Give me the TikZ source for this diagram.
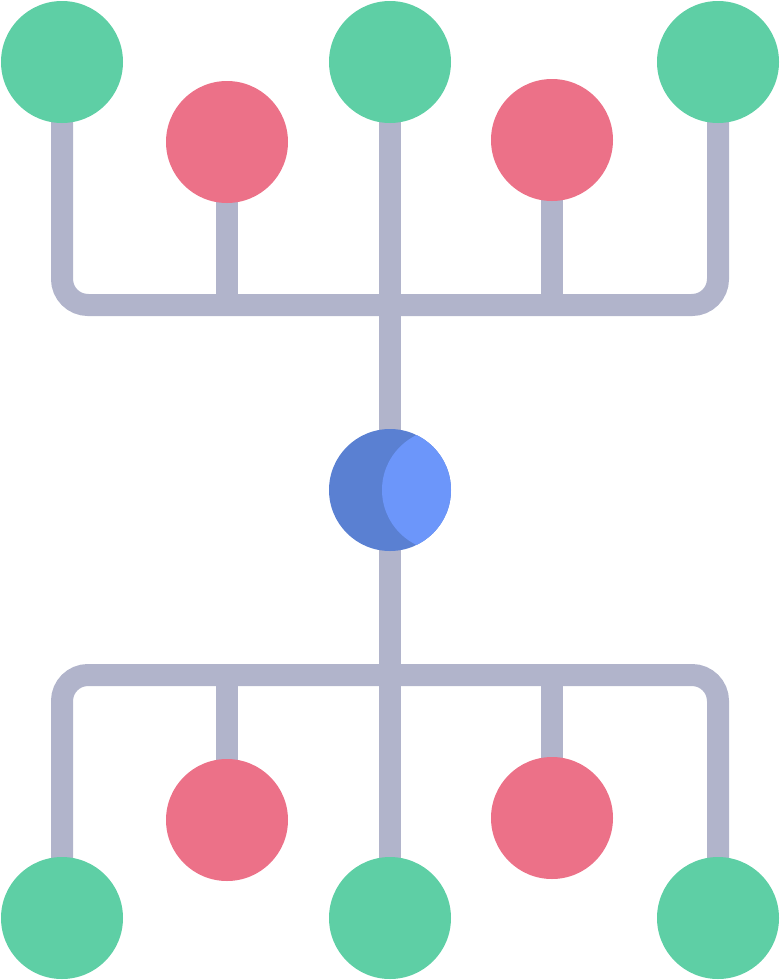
\documentclass[tikz,border=0pt]{standalone}
\usepackage{tikz}
\usetikzlibrary{backgrounds}
\definecolor{gruen}{HTML}{5ECFA5}
\definecolor{rot}{HTML}{EC7188}
\definecolor{grau}{HTML}{B1B4CB}
\definecolor{blauD}{HTML}{5A80D2}
\definecolor{blauH}{HTML}{6C96FA}
\tikzset{
  Kreis/.style={circle,inner sep=0pt,minimum size=122pt,fill=#1}, % für Punkte
  Leitung/.style={draw=grau,line width=22pt,rounded corners=26pt} % für Verbindungen
}
\begin{document}
\begin{tikzpicture}[x=1pt,y=-1pt]
\useasboundingbox (0,0) rectangle (780,980);

%Punkte oben
\node[Kreis=gruen] (G1) at (62,62) {};
\node[Kreis=gruen] (G2) at (390,62) {};
\node[Kreis=gruen] (G3) at (718,62) {};
\node[Kreis=rot] (R1) at (227,142) {};
\node[Kreis=rot] (R2) at (552,140) {};

%Mitte
\node[Kreis=blauD] (B) at (390,490) {};
\begin{scope}
\clip (B.center) circle (61);
\fill[blauH] ([xshift=53pt]B.center) circle (61);
\end{scope}

%Punkte unten
\node[Kreis=rot] (R3) at (227,820) {};
\node[Kreis=rot] (R4) at (552,818) {};
\node[Kreis=gruen] (G4) at (62,918) {};
\node[Kreis=gruen] (G5) at (390,918) {};
\node[Kreis=gruen] (G6) at (718,918) {};

\coordinate (SchieneO) at (390,305);
\coordinate (SchieneU) at (390,675);

%Leiterbahnen
\begin{scope}[on background layer]
\draw[Leitung] (G1.center) |- (SchieneO) -| (G3.center);
\draw[Leitung] (R1.center) -- (R1.center |- SchieneO);
\draw[Leitung] (R2.center) -- (R2.center |- SchieneO);

\draw[Leitung] (G2.center) -- (B.center) -- (G5.center);

\draw[Leitung] (G4.center) |- (SchieneU) -| (G6.center);
\draw[Leitung] (R3.center) -- (R3.center |- SchieneU);
\draw[Leitung] (R4.center) -- (R4.center |- SchieneU);
\end{scope}

\end{tikzpicture}
\end{document}
